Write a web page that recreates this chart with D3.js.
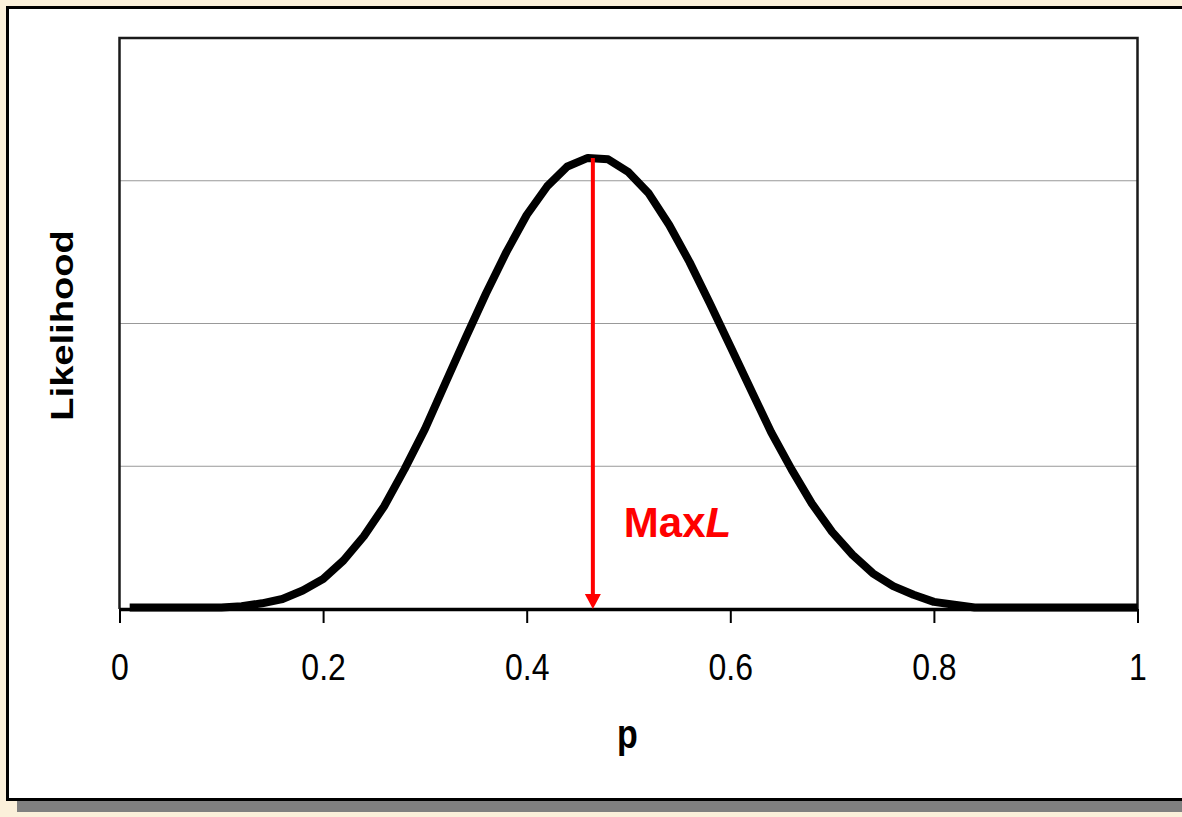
<!DOCTYPE html>
<html>
<head>
<meta charset="utf-8">
<script src="https://cdn.jsdelivr.net/npm/d3@7"></script>
<style>
  body { margin: 0; background: #fbf0da; }
  svg { display: block; }
  text { font-family: "Liberation Sans", Arial, sans-serif; }
</style>
</head>
<body>
<svg id="chart" width="1182" height="817"></svg>
<script>
// values (likelihood in gridline units, no y labels on the original)
var pValues = [0.01, 0.04, 0.07, 0.10, 0.12, 0.14, 0.16, 0.18, 0.20, 0.22, 0.24, 0.26, 0.28, 0.30,
               0.32, 0.34, 0.36, 0.38, 0.40, 0.42, 0.44, 0.46, 0.48, 0.50, 0.52, 0.54, 0.56, 0.58,
               0.60, 0.62, 0.64, 0.66, 0.68, 0.70, 0.72, 0.74, 0.76, 0.78, 0.80, 0.82, 0.84, 0.86,
               0.90, 0.94, 0.98, 1.00];
var likelihood = [0.01, 0.01, 0.01, 0.01, 0.02, 0.04, 0.07, 0.13, 0.21, 0.34, 0.51, 0.72, 0.98, 1.26,
                  1.58, 1.90, 2.21, 2.50, 2.76, 2.96, 3.10, 3.16, 3.15, 3.06, 2.91, 2.69, 2.43, 2.14,
                  1.84, 1.54, 1.24, 0.98, 0.74, 0.54, 0.38, 0.25, 0.16, 0.10, 0.05, 0.03, 0.01, 0.01,
                  0.01, 0.01, 0.01, 0.01];
var xTicks = [0, 0.2, 0.4, 0.6, 0.8, 1];
var xTickLabels = ["0", "0.2", "0.4", "0.6", "0.8", "1"];
var gridValues = [1, 2, 3];
var maxP = 0.465;          // where the red arrow stands
var xTitle = "p";
var yTitle = "Likelihood";

var svg = d3.select("#chart");

// plot area inside the frame  (careful: "top" is taken by window.top)
var plotLeft = 119.5, plotRight = 1137.5, plotTop = 38, plotBottom = 609;

var x = d3.scaleLinear().domain([0, 1]).range([plotLeft, plotRight]);
var y = d3.scaleLinear().domain([0, 4]).range([plotBottom, plotTop]);

// shadow + white outer frame
svg.append("rect")
    .attr("x", 17).attr("y", 801)
    .attr("width", 1200).attr("height", 11)
    .attr("fill", "#808080");

svg.append("rect")
    .attr("x", 7.5).attr("y", 7.5)
    .attr("width", 1200).attr("height", 792)
    .attr("fill", "#ffffff")
    .attr("stroke", "#000")
    .attr("stroke-width", 3);

// horizontal gridlines
svg.selectAll(".grid")
    .data(gridValues)
    .enter()
    .append("line")
    .attr("class", "grid")
    .attr("x1", plotLeft).attr("x2", plotRight)
    .attr("y1", d => y(d)).attr("y2", d => y(d))
    .attr("stroke", "#999999")
    .attr("stroke-width", 1);

// plot area border (left, top, right)
svg.append("path")
    .attr("d", `M${plotLeft},${plotBottom} V${plotTop} H${plotRight} V${plotBottom}`)
    .attr("fill", "none")
    .attr("stroke", "#1a1a1a")
    .attr("stroke-width", 2.5);

// x axis
var xAxis = d3.axisBottom(x)
    .tickValues(xTicks)
    .tickSize(14)
    .tickSizeOuter(0)
    .tickFormat((d, i) => xTickLabels[i]);

var gx = svg.append("g")
    .attr("transform", `translate(0,${plotBottom})`)
    .call(xAxis);

gx.select(".domain").attr("stroke", "#000").attr("stroke-width", 3.5);
gx.selectAll(".tick line").attr("stroke", "#000").attr("stroke-width", 2);
gx.selectAll(".tick text")
    .attr("y", 0)
    .attr("dy", 0)
    .attr("transform", "translate(0,71) scale(1,1.15)")
    .attr("font-size", 32)
    .attr("font-family", "'Liberation Sans', Arial, sans-serif")
    .attr("fill", "#000");

// the curve
var line = d3.line()
    .x((d, i) => x(pValues[i]))
    .y(d => y(d));

svg.append("path")
    .datum(likelihood)
    .attr("d", line)
    .attr("fill", "none")
    .attr("stroke", "#000")
    .attr("stroke-width", 8)
    .attr("stroke-linejoin", "round");

// red arrow down from the peak
var peak = d3.max(likelihood);
var ax = x(maxP);
svg.append("line")
    .attr("x1", ax).attr("x2", ax)
    .attr("y1", y(peak)).attr("y2", plotBottom - 12)
    .attr("stroke", "#ff0000")
    .attr("stroke-width", 4);

svg.append("path")
    .attr("d", `M${ax - 8},${plotBottom - 15} L${ax + 8},${plotBottom - 15} L${ax},${plotBottom} Z`)
    .attr("fill", "#ff0000");

var label = svg.append("text")
    .attr("x", ax + 31)
    .attr("y", 537)
    .attr("font-size", 42)
    .attr("font-weight", "bold")
    .attr("fill", "#ff0000");
label.append("tspan").text("Max");
label.append("tspan").attr("font-style", "italic").text("L");

// axis titles
svg.append("text")
    .attr("text-anchor", "middle")
    .attr("font-size", 34)
    .attr("font-weight", "bold")
    .attr("transform", `translate(${(plotLeft + plotRight) / 2 - 1},748) scale(1,1.17)`)
    .text(xTitle);

svg.append("text")
    .attr("text-anchor", "middle")
    .attr("font-size", 32)
    .attr("font-weight", "bold")
    .attr("transform", `translate(73,${(plotTop + plotBottom) / 2 + 2}) rotate(-90) scale(1.19,1)`)
    .text(yTitle);
</script>
</body>
</html>
